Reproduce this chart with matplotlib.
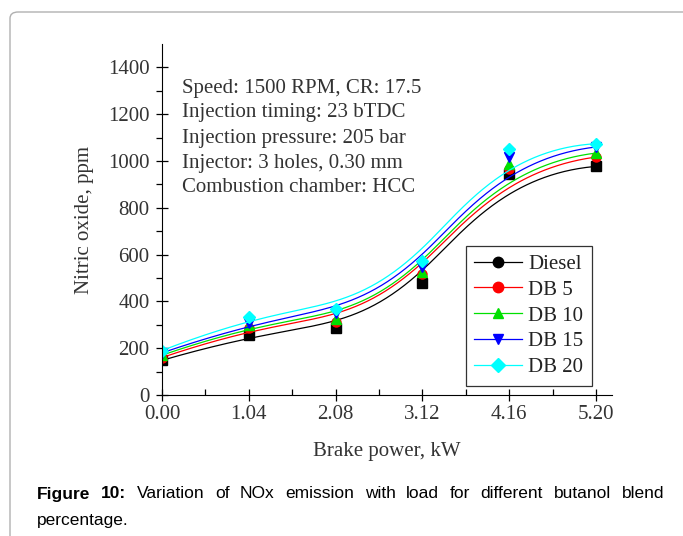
import numpy as np
import matplotlib.pyplot as plt
from matplotlib.lines import Line2D
from matplotlib.patches import FancyBboxPatch

# data
power = [0.00, 1.04, 2.08, 3.12, 4.16, 5.20]
diesel = [148, 256, 285, 479, 946, 977]
db5 = [160, 286, 313, 516, 967, 1017]
db10 = [170, 298, 325, 526, 989, 1034]
db15 = [180, 307, 350, 548, 1017, 1060]
db20 = [190, 334, 367, 573, 1053, 1074]

labels = ['Diesel', 'DB 5', 'DB 10', 'DB 15', 'DB 20']
colors = ['black', 'red', '#00e000', 'blue', 'cyan']
markers = ['s', 'o', '^', 'v', 'D']
legend_markers = ['o', 'o', '^', 'v', 'D']
series = [diesel, db5, db10, db15, db20]

notes = ['Speed: 1500 RPM, CR: 17.5',
         'Injection timing: 23 bTDC',
         'Injection pressure: 205 bar',
         'Injector: 3 holes, 0.30 mm',
         'Combustion chamber: HCC']


def bspline(px, py, n=300, k=3):
    """clamped B-spline with the points as control points (like Origin's B-Spline line)"""
    m = len(px)
    inner = np.linspace(0, 1, m - k + 1)
    knots = np.concatenate([[0] * k, inner, [1] * k])
    t = np.linspace(0, 1 - 1e-9, n)
    # Cox-de Boor
    B = np.array([((knots[i] <= t) & (t < knots[i + 1])).astype(float)
                  for i in range(len(knots) - 1)])
    for d in range(1, k + 1):
        nb = []
        for i in range(len(knots) - 1 - d):
            a = knots[i + d] - knots[i]
            b = knots[i + d + 1] - knots[i + 1]
            val = np.zeros_like(t)
            if a > 0:
                val += (t - knots[i]) / a * B[i]
            if b > 0:
                val += (knots[i + d + 1] - t) / b * B[i + 1]
            nb.append(val)
        B = np.array(nb)
    return B.T @ np.asarray(px, float), B.T @ np.asarray(py, float)


W, H = 683, 536
FS = 15
plt.rcParams['font.family'] = 'Liberation Serif'

fig = plt.figure(figsize=(W / 100, H / 100), dpi=100)

# card outline behind the chart
card = FancyBboxPatch((10 / W, -0.1), 1.2, (H - 12) / H + 0.1,
                      boxstyle='round,pad=0,rounding_size=0.012',
                      transform=fig.transFigure, fc='white', ec='#b0b0b0', lw=1.0,
                      zorder=-5)
fig.patches.append(card)

ax = fig.add_axes([162 / W, 1 - 395 / H, (612 - 162) / W, (395 - 44) / H])
ax.set_facecolor('none')

for ys, c, m in zip(series, colors, markers):
    cx, cy = bspline(power, ys)
    ax.plot(cx, cy, color=c, lw=0.9)
    ax.plot(power, ys, ls='none', marker=m, color=c, ms=6.5)

ax.set_xlim(0, 5.39)
ax.set_ylim(0, 1500)
ax.set_xticks(power)
ax.set_xticklabels(['%.2f' % p for p in power])
ax.set_xticks(np.arange(0.52, 5.3, 1.04), minor=True)
ax.set_yticks(np.arange(0, 1401, 200))
ax.set_yticks(np.arange(100, 1500, 200), minor=True)
ax.spines['top'].set_visible(False)
ax.spines['right'].set_visible(False)
ax.tick_params(which='major', direction='inout', length=8, width=0.9,
               labelsize=FS, colors='black', labelcolor='#333333')
ax.tick_params(axis='y', which='major', pad=5)
ax.tick_params(axis='x', which='major', pad=3)
ax.tick_params(which='minor', direction='out', length=4, width=0.9)
ax.tick_params(axis='x', which='minor', direction='in')
ax.set_xlabel('Brake power, kW', fontsize=FS, color='#333333', labelpad=13)
ax.set_ylabel('Nitric oxide, ppm', fontsize=FS, color='#333333', labelpad=10)

for i, t in enumerate(notes):
    fig.text(182 / W, 1 - (88 + 25 * i) / H, t, fontsize=FS, color='#333333',
             va='center', ha='left')

handles = [Line2D([], [], color=c, marker=m, ms=7.5, lw=0.9)
           for c, m in zip(colors, legend_markers)]
leg = ax.legend(handles, labels, loc='upper left', bbox_to_anchor=(466 / W, 1 - 246 / H),
                bbox_transform=fig.transFigure, fontsize=FS, frameon=True, fancybox=False,
                edgecolor='black', handlelength=2.3, labelspacing=0.3, borderpad=0.4,
                handletextpad=0.3, borderaxespad=0)
leg.get_frame().set_linewidth(0.9)
for t in leg.get_texts():
    t.set_color('#222222')

# caption, first line justified between x=37 and x=664
renderer = fig.canvas.get_renderer()
words = ['Figure', '10:', 'Variation', 'of', 'NOx', 'emission', 'with', 'load', 'for',
         'different', 'butanol', 'blend']
objs = []
for i, wd in enumerate(words):
    objs.append(fig.text(0, 1 - 494 / H, wd, fontsize=12.5, family='Liberation Sans',
                         fontweight='bold' if i < 2 else 'normal', va='center'))
widths = [o.get_window_extent(renderer).width for o in objs]
gap = (664 - 37 - sum(widths)) / (len(words) - 1)
xpos = 37
for o, wdt in zip(objs, widths):
    o.set_x(xpos / W)
    xpos += wdt + gap
fig.text(37 / W, 1 - 520 / H, 'percentage.', fontsize=12.5,
         family='Liberation Sans', va='center')

fig.savefig('out.png', dpi=100)
